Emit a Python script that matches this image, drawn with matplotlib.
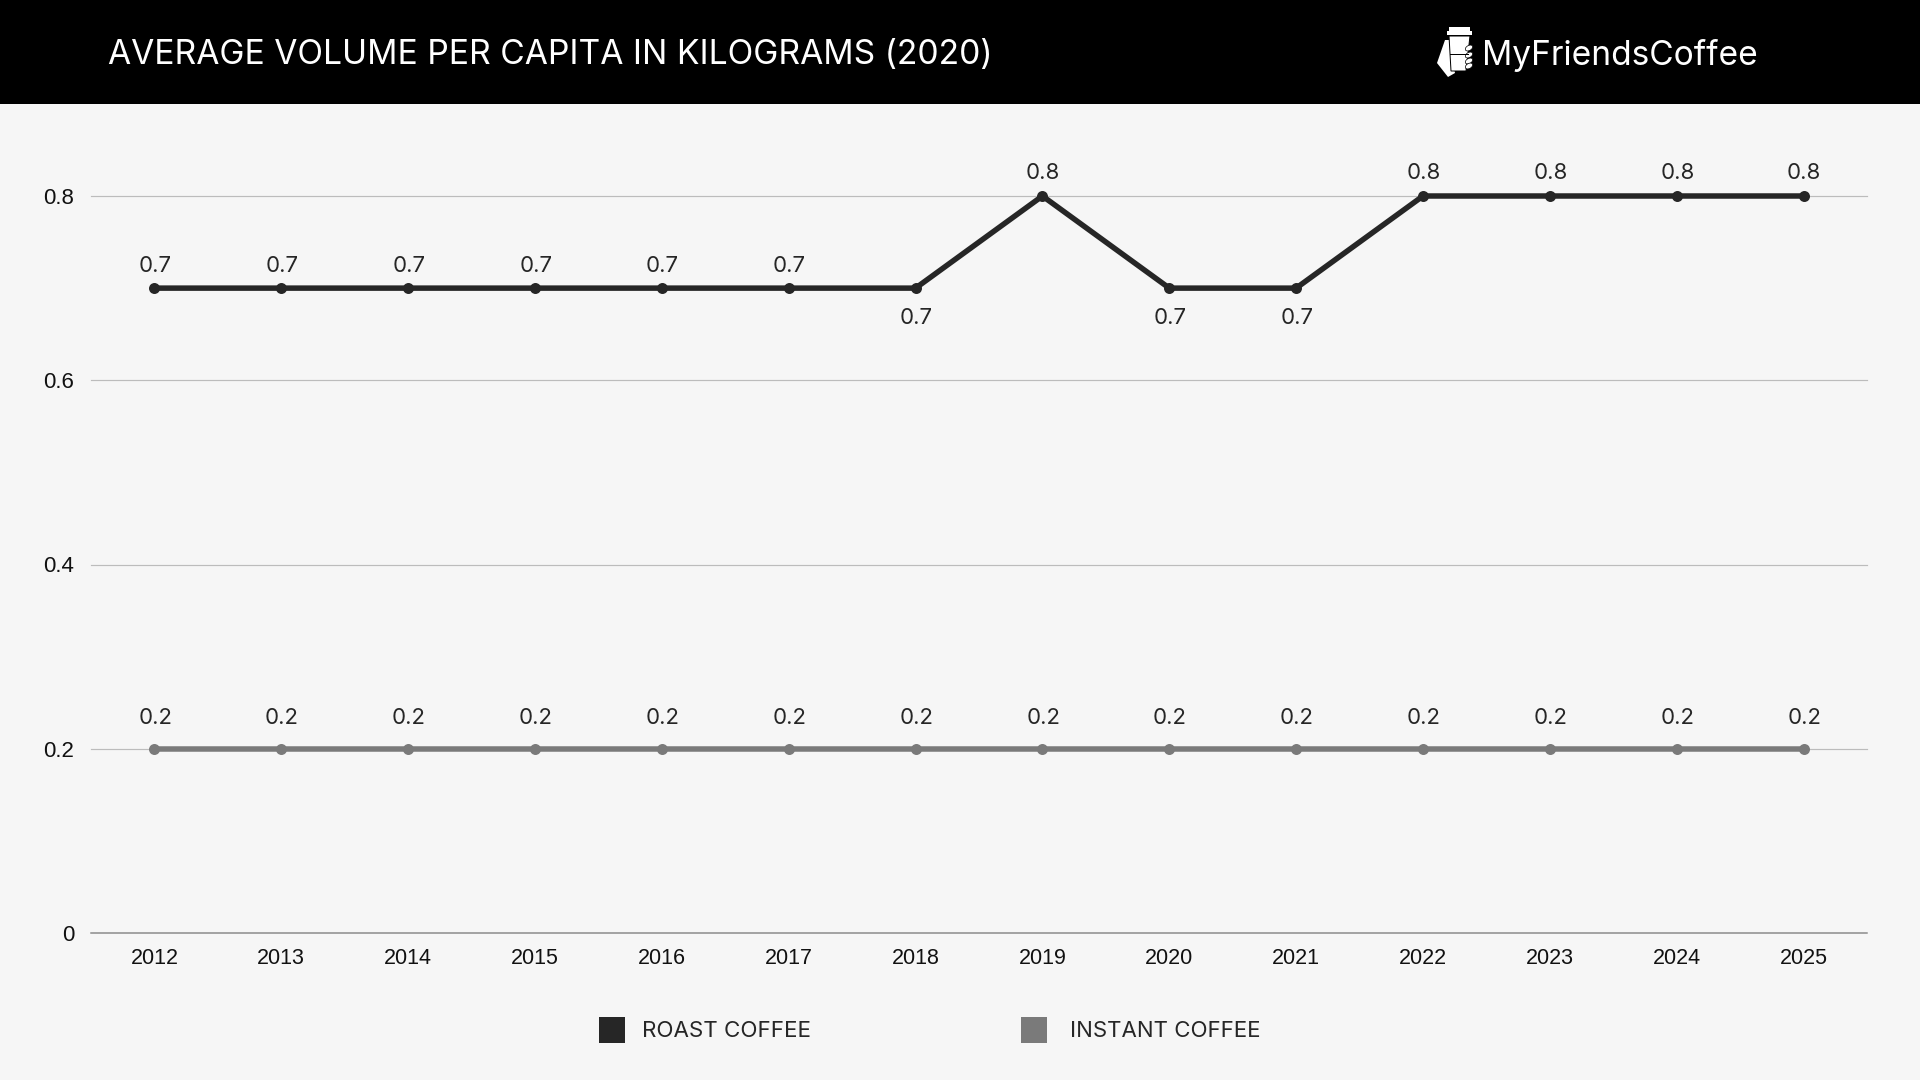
import matplotlib
matplotlib.use('Agg')
import matplotlib.pyplot as plt
from matplotlib.patches import Ellipse, Polygon, Rectangle

years = ['2012', '2013', '2014', '2015', '2016', '2017', '2018',
         '2019', '2020', '2021', '2022', '2023', '2024', '2025']
roast = [0.7, 0.7, 0.7, 0.7, 0.7, 0.7, 0.7, 0.8, 0.7, 0.7, 0.8, 0.8, 0.8, 0.8]
instant = [0.2] * 14
roast_below = ['2018', '2020', '2021']
y_ticks = [0, 0.2, 0.4, 0.6, 0.8]
y_tick_labels = ['0', '0.2', '0.4', '0.6', '0.8']

BG = '#f6f6f6'
DARK = '#262626'
GREY = '#7a7a7a'
W, H = 1920, 1080
PX = 72 / 100  # one pixel in points

fig = plt.figure(figsize=(19.2, 10.8), dpi=100, facecolor=BG)

# main chart
ax = fig.add_axes([91 / W, (H - 933) / H, 1776 / W, 737 / H], facecolor='none')
x = list(range(len(years)))
ax.set_xlim(-0.5, 13.5)
ax.set_ylim(0, 0.8)
for s in ['top', 'left', 'right']:
    ax.spines[s].set_visible(False)
ax.spines['bottom'].set_color('#8a8a8a')
ax.spines['bottom'].set_linewidth(1.5 * PX)
ax.set_yticks(y_ticks)
ax.set_yticklabels(y_tick_labels, family='Liberation Sans', fontsize=16, color='#111111')
ax.set_xticks(x)
ax.set_xticklabels(years, family='Liberation Sans', fontsize=15.5, color='#111111')
ax.tick_params(axis='both', length=0)
ax.tick_params(axis='y', pad=12)
ax.tick_params(axis='x', pad=11)
for t in y_ticks[1:]:
    ax.axhline(t, color='#bcbcbc', lw=1.2 * PX, zorder=1, clip_on=False)

ax.plot(x, roast, color=DARK, lw=5.5 * PX, marker='o', ms=11 * PX, mew=0,
        zorder=3, clip_on=False, solid_joinstyle='miter')
ax.plot(x, instant, color=GREY, lw=5.5 * PX, marker='o', ms=11 * PX, mew=0,
        zorder=3, clip_on=False)

for i, yr in enumerate(years):
    if yr in roast_below:
        off = -30
    elif roast[i] == 0.8:
        off = 23
    else:
        off = 22
    ax.annotate(f'{roast[i]:.1f}', (i, roast[i]), xytext=(0.7 * PX, off * PX),
                textcoords='offset points', ha='center', va='center',
                family='Inter', fontsize=16, color=DARK)
    ax.annotate(f'{instant[i]:.1f}', (i, instant[i]), xytext=(0.7 * PX, 31 * PX),
                textcoords='offset points', ha='center', va='center',
                family='Inter', fontsize=16, color=DARK)

# overlay in pixel coordinates for header, logo and legend
ov = fig.add_axes([0, 0, 1, 1], facecolor='none')
ov.set_xlim(0, W)
ov.set_ylim(H, 0)
ov.axis('off')
ov.add_patch(Rectangle((0, 0), W, 104, color='black', lw=0))
ov.text(108, 55, 'AVERAGE VOLUME PER CAPITA IN KILOGRAMS (2020)', color='white',
        family='Inter', fontsize=24.2, va='center', ha='left')
ov.text(1482, 55, 'MyFriendsCoffee', color='white', family='Inter',
        fontsize=24.1, va='center', ha='left')

# logo: cup held in a hand
ov.add_patch(Polygon([(1445, 40), (1449, 40), (1455, 73), (1448, 77), (1437, 63)],
                     color='white', lw=0))
ov.add_patch(Rectangle((1449, 27), 21, 4, color='white', lw=0))
ov.add_patch(Rectangle((1447, 31), 25, 4, color='white', lw=0))
ov.add_patch(Polygon([(1449, 36), (1470, 36), (1466, 71), (1451, 71)],
                     facecolor='white', edgecolor='black', lw=1 * PX))
ov.plot([1450, 1468], [54, 54], color='black', lw=1 * PX)
for fy in [48, 55, 61, 66]:
    ov.add_patch(Ellipse((1469, fy), 8, 5, angle=-30, facecolor='white',
                         edgecolor='black', lw=0.7 * PX))

# legend
ov.add_patch(Rectangle((599, 1017), 26, 26, color=DARK, lw=0))
ov.add_patch(Rectangle((1021, 1017), 26, 26, color=GREY, lw=0))
ov.text(642, 1031, 'ROAST COFFEE', family='Inter', fontsize=16.1, color=DARK, va='center')
ov.text(1070, 1031, 'INSTANT COFFEE', family='Inter', fontsize=16, color=DARK, va='center')

fig.savefig('out.png', dpi=100, facecolor=BG)
